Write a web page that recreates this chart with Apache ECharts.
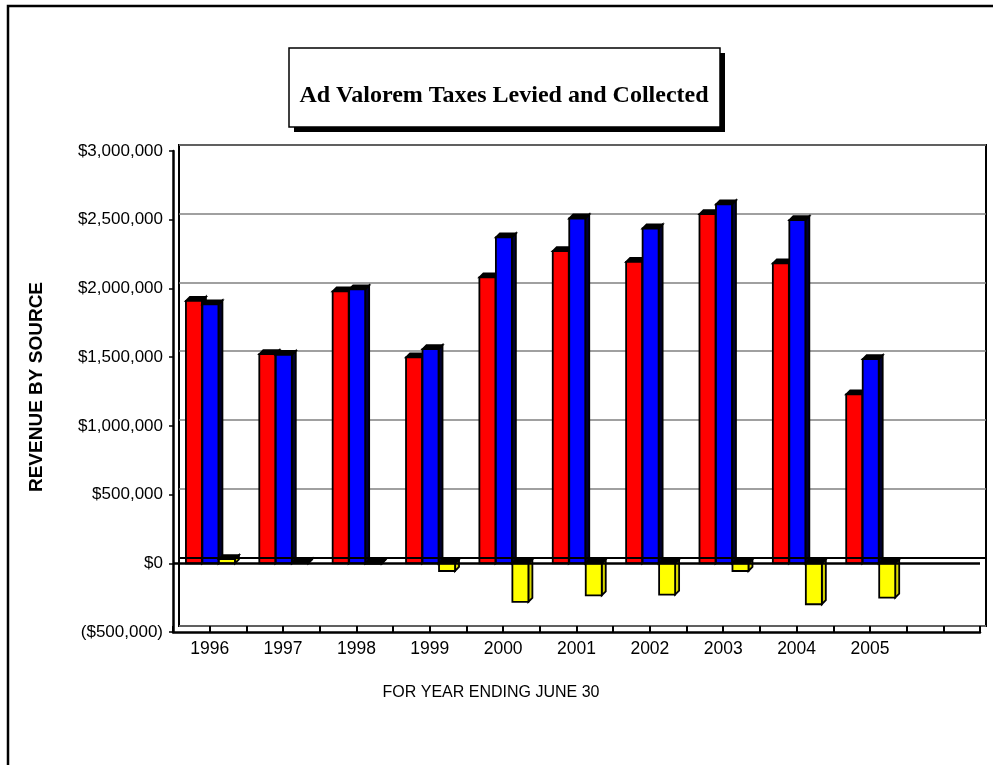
<!DOCTYPE html>
<html>
<head>
<meta charset="utf-8">
<title>Ad Valorem Taxes Levied and Collected</title>
<script src="https://cdn.jsdelivr.net/npm/echarts@6/dist/echarts.min.js"></script>
<style>
  html, body { margin: 0; padding: 0; background: #ffffff; }
  #chart { width: 993px; height: 765px; }
</style>
</head>
<body>
<div id="chart"></div>
<script>
// Fiscal years (year ending June 30); the trailing blank slot keeps the empty column at the right
const years = ['1996', '1997', '1998', '1999', '2000', '2001', '2002', '2003', '2004', '2005', ''];

// Dollar amounts per year
const levied    = [1910000, 1522000, 1978000, 1498000, 2080000, 2271000, 2193000, 2540000, 2182000, 1229000];
const collected = [1884000, 1517000, 1993000, 1559000, 2371000, 2509000, 2436000, 2611000, 2497000, 1486000];
const variance  = [30000, 5000, -3000, -56000, -281000, -233000, -228000, -56000, -298000, -250000];

// Value axis range and step
const yMin = -500000;
const yMax = 3000000;
const yStep = 500000;

const chartTitle = 'Ad Valorem Taxes Levied and Collected';
const yAxisTitle = 'REVENUE BY SOURCE';
const xAxisTitle = 'FOR YEAR ENDING JUNE 30';

const SANS = '"Liberation Sans", Arial, Helvetica, sans-serif';
const SERIF = '"Liberation Serif", "Times New Roman", Times, serif';

function money(v) {
  const s = '$' + Math.abs(v).toLocaleString('en-US');
  return v < 0 ? '(' + s + ')' : s;
}

// Extruded bar: front face plus top and right-hand faces, positioned through the axes
const BAR_W = 16;      // face width in px
const BAR_STEP = 16.5; // spacing between neighbouring bars in a cluster
const DEPTH = 4;       // extrusion offset in px
const CLUSTER = 3;

function extrudedBar(slot, face, side, top) {
  return function (params, api) {
    const idx = api.value(0);
    const val = api.value(1);
    const base = api.coord([idx, 0]);
    const end = api.coord([idx, val]);
    const x0 = base[0] - (CLUSTER * BAR_STEP) / 2 + slot * BAR_STEP + 1;
    const yTop = Math.min(base[1], end[1]);
    const yBot = Math.max(base[1], end[1]);
    const x1 = x0 + BAR_W;
    const stroke = { stroke: '#000000', lineWidth: 1.8, lineJoin: 'miter' };
    return {
      type: 'group',
      children: [
        { type: 'polygon',
          shape: { points: [[x1, yTop], [x1 + DEPTH, yTop - DEPTH], [x1 + DEPTH, yBot - DEPTH], [x1, yBot]] },
          style: Object.assign({ fill: side }, stroke) },
        { type: 'polygon',
          shape: { points: [[x0, yTop], [x0 + DEPTH, yTop - DEPTH], [x1 + DEPTH, yTop - DEPTH], [x1, yTop]] },
          style: Object.assign({ fill: top }, stroke) },
        { type: 'rect',
          shape: { x: x0, y: yTop, width: BAR_W, height: Math.max(yBot - yTop, 0.5) },
          style: Object.assign({ fill: face }, stroke) }
      ]
    };
  };
}

function pairs(values) {
  return values.map(function (v, i) { return [i, v]; });
}

const chart = echarts.init(document.getElementById('chart'), null, { renderer: 'canvas' });

const option = {
  animation: false,
  backgroundColor: '#ffffff',
  grid: [
    // front plane: bars and axes
    { left: 173, right: 13, top: 151, bottom: 133, containLabel: false },
    // back wall: gridlines, set back and up for the depth effect
    { left: 179, right: 7, top: 145, bottom: 139, containLabel: false,
      show: true, borderColor: '#000000', borderWidth: 2, backgroundColor: 'transparent' }
  ],
  xAxis: [
    {
      type: 'category', gridIndex: 0, data: years, position: 'bottom',
      axisLine: { onZero: false, lineStyle: { color: '#000000', width: 2.5 } },
      axisTick: { show: true, inside: true, length: 6, interval: 0, lineStyle: { color: '#000000', width: 2 } },
      axisLabel: { color: '#000000', fontFamily: SANS, fontSize: 17.5, margin: 8, interval: 0 },
      splitLine: { show: false }
    },
    {
      type: 'category', gridIndex: 0, data: years, position: 'bottom',
      axisLine: { show: false, onZero: false },
      axisTick: { show: true, inside: true, length: 6, interval: 0, alignWithLabel: true,
                  lineStyle: { color: '#000000', width: 2 } },
      axisLabel: { show: false },
      splitLine: { show: false }
    },
    {
      type: 'category', gridIndex: 1, data: years, show: false
    }
  ],
  yAxis: [
    {
      type: 'value', gridIndex: 0, min: yMin, max: yMax, interval: yStep,
      axisLine: { show: true, lineStyle: { color: '#000000', width: 2.5 } },
      axisTick: { show: true, length: 4, lineStyle: { color: '#000000', width: 1.5 } },
      axisLabel: { color: '#000000', fontFamily: SANS, fontSize: 17, margin: 10, formatter: money },
      splitLine: { show: false }
    },
    {
      type: 'value', gridIndex: 1, min: yMin, max: yMax, interval: yStep,
      axisLine: { show: false }, axisTick: { show: false }, axisLabel: { show: false },
      splitLine: { show: true, lineStyle: { color: '#808080', width: 1.5 } }
    }
  ],
  series: [
    {
      // back floor edge at zero
      name: 'Back floor', type: 'line', xAxisIndex: 2, yAxisIndex: 1, data: [],
      silent: true,
      markLine: {
        silent: true, symbol: 'none', label: { show: false },
        lineStyle: { color: '#000000', width: 2, type: 'solid' },
        data: [{ yAxis: 0 }]
      }
    },
    {
      // front floor edge at zero
      name: 'Front floor', type: 'line', xAxisIndex: 0, yAxisIndex: 0, data: [],
      silent: true, z: 1,
      markLine: {
        silent: true, symbol: 'none', label: { show: false },
        lineStyle: { color: '#000000', width: 2.5, type: 'solid' },
        data: [{ yAxis: 0 }]
      }
    },
    {
      name: 'Taxes Levied', type: 'custom', xAxisIndex: 0, yAxisIndex: 0, z: 3,
      encode: { x: 0, y: 1 },
      data: pairs(levied),
      renderItem: extrudedBar(0, '#ff0000', '#000000', '#000000')
    },
    {
      name: 'Taxes Collected', type: 'custom', xAxisIndex: 0, yAxisIndex: 0, z: 3,
      encode: { x: 0, y: 1 },
      data: pairs(collected),
      renderItem: extrudedBar(1, '#0000ff', '#000033', '#000000')
    },
    {
      name: 'Levied less Collected', type: 'custom', xAxisIndex: 0, yAxisIndex: 0, z: 3,
      encode: { x: 0, y: 1 },
      data: pairs(variance),
      renderItem: extrudedBar(2, '#ffff00', '#d6d600', '#000000')
    }
  ],
  graphic: [
    // outer chart frame
    { type: 'rect', z: -10, silent: true,
      shape: { x: 8, y: 6, width: 1000, height: 800 },
      style: { fill: 'none', stroke: '#000000', lineWidth: 2.5 } },
    // title box with drop shadow
    { type: 'rect', z: 10, silent: true,
      shape: { x: 294, y: 53, width: 431, height: 79 },
      style: { fill: '#000000' } },
    { type: 'rect', z: 11, silent: true,
      shape: { x: 289, y: 48, width: 431, height: 79 },
      style: { fill: '#ffffff', stroke: '#000000', lineWidth: 1.5 } },
    { type: 'text', z: 12, silent: true, x: 504, y: 96,
      style: { text: chartTitle, font: 'bold 24px ' + SERIF, fill: '#000000',
               textAlign: 'center', textVerticalAlign: 'middle' } },
    // axis titles
    { type: 'text', silent: true, x: 37, y: 387, rotation: Math.PI / 2,
      style: { text: yAxisTitle, font: 'bold 19px ' + SANS, fill: '#000000',
               textAlign: 'center', textVerticalAlign: 'middle' } },
    { type: 'text', silent: true, x: 491, y: 693,
      style: { text: xAxisTitle, font: '16px ' + SANS, fill: '#000000',
               textAlign: 'center', textVerticalAlign: 'middle' } }
  ]
};

chart.setOption(option);
</script>
</body>
</html>
